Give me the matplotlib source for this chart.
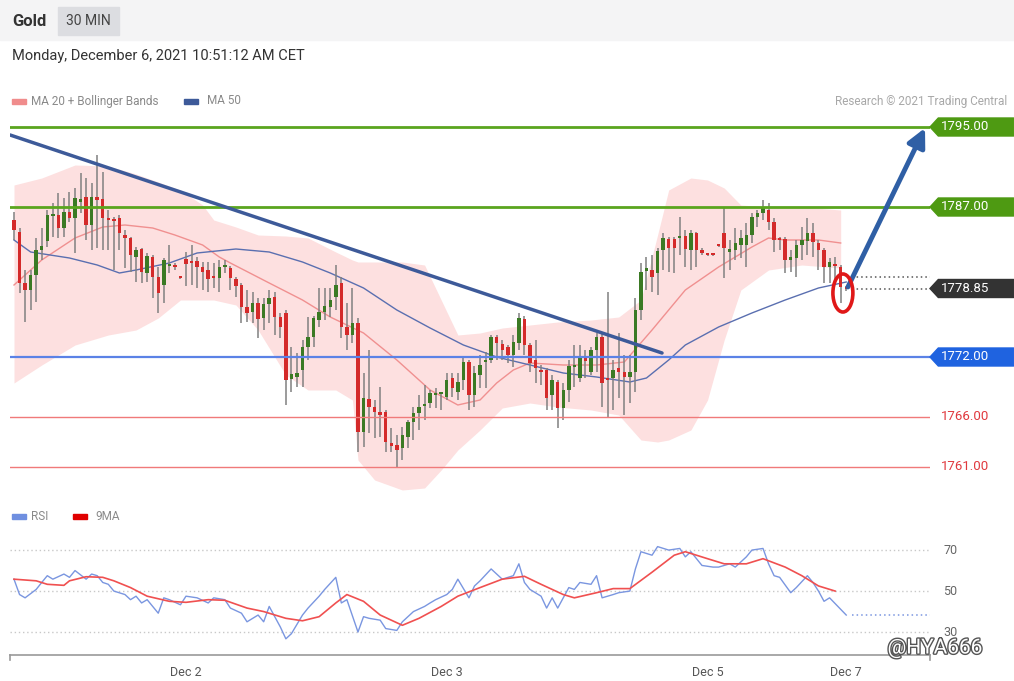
import matplotlib
matplotlib.use("Agg")
import matplotlib.pyplot as plt
import matplotlib.patheffects as pe
from matplotlib.patches import Rectangle, Polygon, Ellipse

plt.rcParams["font.family"] = ["Roboto", "DejaVu Sans"]

# ---- data (30 min gold candles, index 0 .. 150) ----
opens = [
    1785.7, 1784.5, 1779.4, 1778.7, 1780.2, 1782.7, 1783.6, 1786.1, 1786.2, 1784.9,
    1786.5, 1785.9, 1787.5, 1788.0, 1785.2, 1788.0, 1787.8, 1785.9, 1785.8, 1785.9,
    1784.2, 1783.9, 1782.0, 1782.8, 1780.4, 1782.0, 1780.0, 1779.2, 1781.1, 1781.2,
    1780.0, 1781.8, 1781.5, 1781.6, 1781.0, 1780.7, 1780.0, 1779.9, 1781.0, 1780.9,
    1779.8, 1779.2, 1777.0, 1776.5, 1777.4, 1775.9, 1777.3, 1778.0, 1776.0, 1776.4,
    1769.8, 1770.0, 1770.7, 1773.0, 1774.0, 1775.7, 1776.5, 1777.0, 1778.0, 1779.4,
    1775.0, 1774.2, 1775.4, 1764.5, 1767.8, 1767.0, 1766.5, 1766.5, 1763.4, 1763.2,
    1762.9, 1764.0, 1765.5, 1766.4, 1767.1, 1767.4, 1768.2, 1768.3, 1768.0, 1769.9,
    1768.5, 1769.7, 1771.5, 1768.2, 1770.2, 1771.5, 1771.7, 1774.0, 1773.3, 1773.0,
    1772.2, 1773.4, 1775.8, 1773.2, 1771.7, 1770.7, 1770.7, 1768.2, 1769.5, 1766.9,
    1768.7, 1771.0, 1769.9, 1772.1, 1770.5, 1772.7, 1774.0, 1769.8, 1769.9, 1770.9,
    1770.5, 1770.0, 1770.5, 1776.7, 1780.6, 1780.7, 1780.4, 1782.7, 1783.8, 1783.8,
    1783.9, 1784.1, 1782.7, 1784.4, 1782.7, 1782.25, 1782.25, 1783.15, 1784.4, 1782.5,
    1782.7, 1783.2, 1783.2, 1784.2, 1786.0, 1786.4, 1786.7, 1785.5, 1783.9, 1783.8,
    1781.7, 1781.9, 1783.2, 1783.6, 1784.4, 1783.4, 1782.7, 1781.0, 1781.3, 1781.0,
    1779.0,
]
highs = [
    1786.5, 1784.9, 1780.7, 1780.7, 1783.9, 1784.9, 1786.7, 1787.4, 1788.4, 1787.9,
    1788.5, 1788.9, 1790.4, 1789.9, 1789.4, 1792.2, 1790.5, 1786.7, 1786.0, 1786.2,
    1784.7, 1784.0, 1783.0, 1782.9, 1782.4, 1782.2, 1781.0, 1781.9, 1783.2, 1781.4,
    1780.1, 1782.5, 1783.2, 1782.0, 1781.5, 1781.5, 1781.4, 1781.7, 1781.7, 1781.1,
    1780.0, 1779.4, 1778.7, 1778.5, 1777.9, 1777.9, 1778.7, 1778.5, 1776.4, 1776.7,
    1773.0, 1772.4, 1773.7, 1776.0, 1776.1, 1778.9, 1778.9, 1778.9, 1781.2, 1780.0,
    1777.4, 1778.9, 1775.9, 1770.4, 1772.7, 1767.7, 1769.0, 1766.7, 1764.9, 1764.2,
    1765.0, 1765.7, 1767.0, 1768.2, 1769.2, 1768.7, 1768.9, 1768.4, 1770.4, 1770.4,
    1770.4, 1771.9, 1771.7, 1771.1, 1772.2, 1772.5, 1774.2, 1774.2, 1773.7, 1773.2,
    1774.2, 1776.4, 1776.1, 1773.4, 1773.7, 1771.2, 1770.9, 1770.2, 1769.7, 1769.4,
    1771.7, 1773.2, 1773.2, 1772.7, 1773.0, 1774.4, 1774.4, 1778.5, 1771.7, 1774.4,
    1772.2, 1772.2, 1777.9, 1781.4, 1782.0, 1782.2, 1782.9, 1784.4, 1784.0, 1784.0,
    1786.0, 1784.7, 1784.7, 1784.5, 1782.9, 1782.3, 1782.3, 1783.2, 1786.9, 1783.7,
    1784.9, 1784.7, 1785.4, 1786.4, 1786.7, 1787.7, 1787.4, 1785.9, 1784.0, 1784.0,
    1782.7, 1783.7, 1785.0, 1785.9, 1785.4, 1783.7, 1782.9, 1781.9, 1782.0, 1781.2,
    1779.1,
]
lows = [
    1783.7, 1778.4, 1775.5, 1776.7, 1777.5, 1781.7, 1783.0, 1784.0, 1783.9, 1784.0,
    1785.5, 1782.4, 1786.4, 1783.7, 1782.7, 1782.9, 1782.7, 1782.7, 1780.7, 1782.7,
    1780.9, 1780.5, 1779.5, 1779.4, 1779.5, 1777.9, 1776.4, 1777.4, 1780.4, 1780.7,
    1779.8, 1779.1, 1779.2, 1778.9, 1778.7, 1778.5, 1778.9, 1778.5, 1780.4, 1778.7,
    1778.0, 1775.4, 1775.5, 1775.4, 1773.9, 1774.7, 1775.4, 1774.2, 1773.9, 1767.2,
    1768.5, 1769.0, 1769.0, 1771.7, 1773.0, 1775.0, 1775.7, 1776.0, 1776.7, 1773.9,
    1772.7, 1773.4, 1762.5, 1763.0, 1764.4, 1763.9, 1764.0, 1762.5, 1762.5, 1760.9,
    1761.7, 1762.9, 1763.7, 1764.7, 1765.7, 1766.9, 1766.9, 1766.7, 1767.7, 1768.0,
    1767.7, 1768.7, 1766.7, 1767.0, 1768.9, 1768.9, 1771.4, 1771.7, 1771.7, 1771.4,
    1771.0, 1772.7, 1772.2, 1770.5, 1769.4, 1769.2, 1766.7, 1766.7, 1764.9, 1765.7,
    1767.5, 1769.0, 1769.5, 1769.9, 1770.2, 1770.5, 1767.0, 1766.0, 1766.7, 1767.9,
    1766.2, 1767.4, 1768.5, 1775.7, 1778.7, 1778.5, 1778.2, 1780.7, 1780.5, 1780.4,
    1782.2, 1781.0, 1780.7, 1781.0, 1782.2, 1782.1, 1782.1, 1783.0, 1779.9, 1780.7,
    1781.7, 1781.9, 1781.0, 1783.4, 1785.0, 1785.7, 1784.7, 1782.5, 1782.7, 1780.4,
    1780.5, 1780.0, 1781.7, 1782.2, 1782.0, 1780.7, 1779.4, 1779.4, 1779.2, 1777.4,
    1778.6,
]
closes = [
    1784.7, 1779.4, 1778.7, 1780.2, 1782.7, 1783.1, 1786.2, 1786.2, 1784.9, 1786.5,
    1785.9, 1787.9, 1787.8, 1785.2, 1788.0, 1787.7, 1785.9, 1785.7, 1785.6, 1784.4,
    1783.9, 1782.2, 1782.7, 1780.5, 1782.1, 1780.0, 1778.4, 1781.7, 1781.2, 1781.0,
    1779.9, 1781.3, 1781.4, 1781.0, 1780.5, 1779.8, 1779.9, 1781.0, 1781.1, 1779.9,
    1779.1, 1777.0, 1776.4, 1777.4, 1775.8, 1777.3, 1777.9, 1776.0, 1775.0, 1769.7,
    1770.3, 1770.4, 1773.0, 1774.0, 1775.9, 1776.5, 1777.1, 1777.7, 1779.2, 1775.0,
    1774.2, 1775.4, 1764.5, 1767.9, 1767.0, 1766.5, 1766.2, 1763.5, 1763.1, 1762.7,
    1764.2, 1765.5, 1766.4, 1767.0, 1767.3, 1768.4, 1768.3, 1768.35, 1769.7, 1768.9,
    1769.5, 1771.5, 1768.2, 1770.4, 1771.2, 1771.7, 1774.0, 1773.4, 1772.7, 1772.2,
    1773.5, 1775.9, 1773.2, 1771.4, 1770.9, 1770.5, 1767.9, 1769.7, 1766.9, 1768.7,
    1771.1, 1771.2, 1772.1, 1771.6, 1772.7, 1774.0, 1769.4, 1769.7, 1770.7, 1770.5,
    1770.0, 1770.5, 1776.7, 1780.5, 1780.9, 1780.0, 1782.6, 1783.9, 1782.9, 1782.9,
    1784.0, 1782.8, 1784.4, 1782.7, 1782.4, 1782.2, 1782.2, 1783.1, 1782.9, 1782.8,
    1783.4, 1783.9, 1784.2, 1786.0, 1786.4, 1786.9, 1785.5, 1783.7, 1783.7, 1781.7,
    1782.0, 1783.2, 1783.7, 1784.4, 1783.5, 1782.7, 1781.0, 1781.5, 1781.1, 1779.0,
    1778.85,
]

# Bollinger band (MA 20) edges, sampled at candle index
band_idx = [0, 5, 11, 17, 22, 26, 30, 34, 36, 40, 44, 49, 53, 58, 61, 62, 65, 70,
            74, 77, 80, 84, 88, 93, 98, 104, 109, 113, 116, 118, 122, 125, 128,
            131, 136, 142, 149]
band_up = [1789.2, 1789.9, 1791.2, 1791.1, 1790.3, 1789.5, 1788.7, 1787.2, 1785.7,
           1785.0, 1784.2, 1784.1, 1783.9, 1782.5, 1781.7, 1781.5, 1781.5, 1781.5,
           1781.2, 1777.7, 1774.2, 1774.4, 1774.9, 1775.2, 1775.5, 1775.7, 1776.0,
           1777.7, 1784.2, 1788.7, 1789.9, 1789.7, 1788.9, 1787.2, 1787.0, 1787.0,
           1786.7]
band_lo = [1769.4, 1771.2, 1773.2, 1774.2, 1774.7, 1775.9, 1777.7, 1777.7, 1777.7,
           1777.2, 1774.7, 1770.2, 1768.7, 1768.7, 1767.7, 1761.7, 1759.7, 1758.7,
           1758.9, 1760.7, 1762.7, 1764.7, 1766.9, 1767.4, 1767.0, 1766.7, 1766.2,
           1763.7, 1763.5, 1763.7, 1764.7, 1767.7, 1773.7, 1778.7, 1780.7, 1781.2,
           1780.9]

ma20_idx = [0, 5, 11, 16, 20, 25, 29, 34, 37, 39, 46, 52, 57, 63, 69, 75, 80, 84,
            87, 90, 93, 99, 105, 110, 115, 121, 127, 133, 136, 139, 145, 149]
ma20 = [1779.2, 1781.7, 1783.9, 1785.0, 1785.2, 1784.9, 1784.2, 1783.2, 1782.0,
        1781.4, 1779.4, 1777.7, 1776.0, 1774.4, 1771.7, 1768.7, 1767.2, 1767.7,
        1769.4, 1770.7, 1771.4, 1771.2, 1771.2, 1771.5, 1774.7, 1778.7, 1781.0,
        1783.0, 1783.9, 1783.7, 1783.7, 1783.4]

ma50_idx = [0, 3, 10, 15, 19, 22, 28, 33, 40, 46, 52, 57, 63, 69, 75, 81, 87, 93,
            99, 105, 111, 114, 118, 121, 127, 133, 139, 145, 150]
ma50 = [1783.7, 1782.5, 1781.9, 1781.2, 1780.4, 1780.7, 1781.4, 1782.4, 1782.8,
        1782.5, 1781.5, 1780.4, 1778.9, 1776.7, 1774.9, 1773.2, 1772.0, 1771.2,
        1770.4, 1770.0, 1769.5, 1769.9, 1771.7, 1773.2, 1775.0, 1776.4, 1777.7,
        1778.9, 1779.5]

rsi_idx = [0, 1, 2, 4, 5, 6, 7, 9, 10, 11, 13, 14, 15, 16, 17, 18, 20, 21, 22, 23,
           24, 26, 27, 28, 30, 31, 33, 35, 36, 38, 39, 41, 42, 44, 45, 46, 47, 48,
           49, 50, 52, 53, 55, 56, 58, 59, 60, 62, 63, 64, 66, 67, 69, 70, 72, 74,
           75, 76, 78, 79, 80, 82, 83, 84, 86, 87, 88, 90, 91, 92, 93, 95, 96, 97,
           98, 100, 101, 102, 104, 105, 106, 108, 109, 111, 112, 113, 115, 116,
           118, 120, 121, 122, 124, 126, 127, 129, 130, 132, 133, 135, 136, 137,
           138, 140, 141, 143, 144, 145, 146, 147, 150]
rsi = [55.8, 48.3, 46.7, 50.8, 54.2, 57.5, 55.8, 58.3, 56.7, 60.0, 55.8, 58.3, 57.5,
       54.2, 53.3, 50.0, 48.3, 45.8, 47.5, 44.2, 45.8, 39.2, 46.7, 45.8, 43.3, 47.5,
       46.7, 44.2, 46.7, 45.8, 41.7, 39.2, 35.0, 38.3, 35.0, 42.5, 37.5, 32.5, 26.7,
       29.2, 38.3, 41.7, 47.5, 50.8, 56.7, 44.2, 45.8, 30.0, 37.5, 36.7, 35.8, 31.7,
       30.8, 35.0, 40.0, 42.5, 44.2, 45.8, 48.3, 50.8, 55.8, 46.7, 52.5, 55.0, 60.8,
       58.3, 55.8, 57.5, 63.3, 54.2, 50.8, 47.5, 41.7, 46.7, 41.7, 51.7, 50.8, 54.2,
       53.3, 57.5, 46.7, 48.3, 49.2, 50.0, 60.8, 69.2, 67.5, 71.7, 70.0, 70.8, 66.7,
       69.2, 62.5, 61.7, 61.7, 63.3, 61.7, 66.7, 70.0, 70.8, 63.3, 57.5, 56.7, 49.2,
       51.7, 57.5, 54.2, 50.0, 45.0, 46.7, 38.3]

ma9_idx = [0, 4, 6, 9, 10, 13, 16, 18, 21, 24, 28, 31, 35, 38, 42, 45, 49, 52, 55,
           58, 60, 63, 66, 70, 73, 77, 80, 84, 88, 92, 95, 99, 101, 105, 108, 111,
           115, 119, 121, 125, 128, 132, 135, 139, 142, 145, 148]
ma9 = [55.8, 55.0, 53.3, 52.8, 55.0, 57.0, 56.7, 55.0, 51.7, 47.5, 45.0, 44.5, 45.8,
       45.5, 41.7, 40.0, 36.7, 35.5, 37.5, 44.2, 48.3, 45.0, 38.3, 33.3, 36.7, 42.5,
       47.5, 51.7, 55.8, 57.2, 53.3, 48.3, 46.7, 49.2, 51.2, 51.2, 59.2, 67.5, 69.2,
       65.8, 63.3, 63.3, 65.8, 61.7, 57.5, 52.5, 50.0]

levels_green = [1795.00, 1787.00]
level_blue = 1772.00
levels_red = [1766.00, 1761.00]
last_price = 1778.85
prev_dotted = 1780.0
trend_idx = [-0.7, 116.8]
trend_val = [1794.2, 1772.4]
arrow_from = (150.3, 1779.0)
arrow_to = (164.2, 1794.9)
tick_idx = [31, 78, 125, 150]
tick_labels = ["Dec 2", "Dec 3", "Dec 5", "Dec 7"]

# ---- layout helpers ----
W, H = 1014, 681
fig = plt.figure(figsize=(W / 100, H / 100), dpi=100)
fig.patch.set_facecolor("white")


def px_axes(x0, y0, x1, y1):
    return fig.add_axes([x0 / W, 1 - y1 / H, (x1 - x0) / W, (y1 - y0) / H])


def ftext(x, y, s, **kw):
    kw.setdefault("va", "center")
    return fig.text(x / W, 1 - y / H, s, **kw)


def frect(x0, y0, x1, y1, color):
    fig.patches.append(Rectangle((x0 / W, 1 - y1 / H), (x1 - x0) / W, (y1 - y0) / H,
                                 transform=fig.transFigure, color=color, zorder=0))


# header
frect(0, 0, W, 40, "#f4f4f5")
frect(58, 7, 119, 35, "#dcdde1")
ftext(12, 21, "Gold", fontsize=12, fontweight="bold", color="#333333")
ftext(88, 21, "30 MIN", fontsize=10, color="#444444", ha="center")
ftext(12, 56, "Monday, December 6, 2021 10:51:12 AM CET", fontsize=10.5, color="#333333")

# legends
frect(12, 99, 26, 104, "#f08c8c")
ftext(31, 101, "MA 20 + Bollinger Bands", fontsize=8.5, color="#8a8a8a")
frect(184, 99, 198, 104, "#3d5a99")
ftext(207, 101, "MA 50", fontsize=8.5, color="#8a8a8a")
ftext(1007, 101, "Research \u00a9 2021 Trading Central", fontsize=8.5, color="#a8a8a8", ha="right")
frect(12, 514, 26, 519, "#6f8fe0")
ftext(31, 516, "RSI", fontsize=8.5, color="#8a8a8a")
frect(73, 514, 87, 519, "#e00000")
ftext(95, 516, "9MA", fontsize=8.5, color="#8a8a8a")

# ---- price panel ----
ax = px_axes(10, 115, 930, 495)
ax.set_xlim(-0.72, 165.1)
ax.set_ylim(1758.2, 1796.2)
ax.axis("off")

ax.fill_between(band_idx, band_lo, band_up, color="#fde0e0", lw=0, zorder=1)
ax.plot(ma20_idx, ma20, color="#f09090", lw=1, zorder=2)
ax.plot(ma50_idx, ma50, color="#5a6fb0", lw=1, zorder=2)

idx = list(range(len(closes)))
up = [c >= o for o, c in zip(opens, closes)]
ax.vlines(idx, lows, highs, color="#808080", lw=1.1, zorder=3)
bottoms = [min(o, c) for o, c in zip(opens, closes)]
heights = [max(abs(c - o), 0.15) for o, c in zip(opens, closes)]
colors = ["#3b7a24" if u else "#d42a2a" for u in up]
ax.bar(idx, heights, bottom=bottoms, width=0.62, color=colors, lw=0, zorder=4)

for lv in levels_green:
    ax.axhline(lv, color="#5aa51e", lw=2, zorder=5)
ax.axhline(level_blue, color="#5b82e6", lw=1.6, zorder=5)
for lv in levels_red:
    ax.axhline(lv, color="#f07a7a", lw=1, zorder=5)

ax.plot(trend_idx, trend_val, color="#3d5a99", lw=2.5, zorder=6, solid_capstyle="round")
ax.hlines([prev_dotted, last_price], 151.0, 165.1, colors="#555555", lw=1.1,
          linestyles=(0, (1, 2)), zorder=5)
ax.annotate("", xy=arrow_to, xytext=arrow_from, zorder=7,
            arrowprops=dict(arrowstyle="-|>,head_length=1.1,head_width=0.55",
                            color="#2f5fa5", lw=3.5, shrinkA=0, shrinkB=0))
ax.add_patch(Ellipse((149.4, 1778.4), 3.6, 3.8, fill=False, ec="#e01818", lw=2.6, zorder=8))


def tag(level, color, text_color="white"):
    h = 0.9
    pts = [(165.1, level), (166.6, level + h), (180.2, level + h),
           (180.2, level - h), (166.6, level - h)]
    ax.add_patch(Polygon(pts, closed=True, color=color, clip_on=False, zorder=9))
    ax.text(167.0, level, "%.2f" % level, color=text_color, fontsize=9.5,
            va="center", ha="left", clip_on=False, zorder=10)


for lv in levels_green:
    tag(lv, "#4e9a12")
tag(level_blue, "#1f63e0")
tag(last_price, "#333333")
for lv in levels_red:
    ax.text(167.0, lv, "%.2f" % lv, color="#e0393e", fontsize=9.5, va="center",
            ha="left", clip_on=False)

# ---- RSI panel ----
rx = px_axes(10, 530, 930, 655)
rx.set_xlim(-0.72, 165.1)
rx.set_ylim(18.8, 79.8)
for s in ["top", "right", "left"]:
    rx.spines[s].set_visible(False)
rx.spines["bottom"].set_color("#999999")
rx.spines["bottom"].set_linewidth(1.2)
rx.set_yticks([])
rx.set_xticks(tick_idx)
rx.set_xticklabels(tick_labels, fontsize=9, color="#555555")
rx.tick_params(axis="x", length=0, pad=8)
for lv in [70, 50, 30]:
    rx.hlines(lv, -0.72, 165.1, colors="#c8c8c8", lw=1, linestyles=(0, (1, 2)))
    rx.text(167.5, lv, str(lv), fontsize=9, color="#666666", va="center", clip_on=False)
rx.plot(rsi_idx, rsi, color="#7a96e0", lw=1)
rx.plot(ma9_idx, ma9, color="#f05050", lw=1.2)
rx.hlines(rsi[-1], 151.0, 165.1, colors="#7a96e0", lw=1.1, linestyles=(0, (1, 2)))
for xe in [-0.72, 165.1]:
    rx.plot([xe, xe], [18.8, 16.2], color="#999999", lw=1.2, clip_on=False)

# watermark
ftext(935, 648, "@HYA666", fontsize=15, color="white", ha="center",
      path_effects=[pe.withStroke(linewidth=2, foreground="#555555")])

fig.savefig("out.png", dpi=100)
